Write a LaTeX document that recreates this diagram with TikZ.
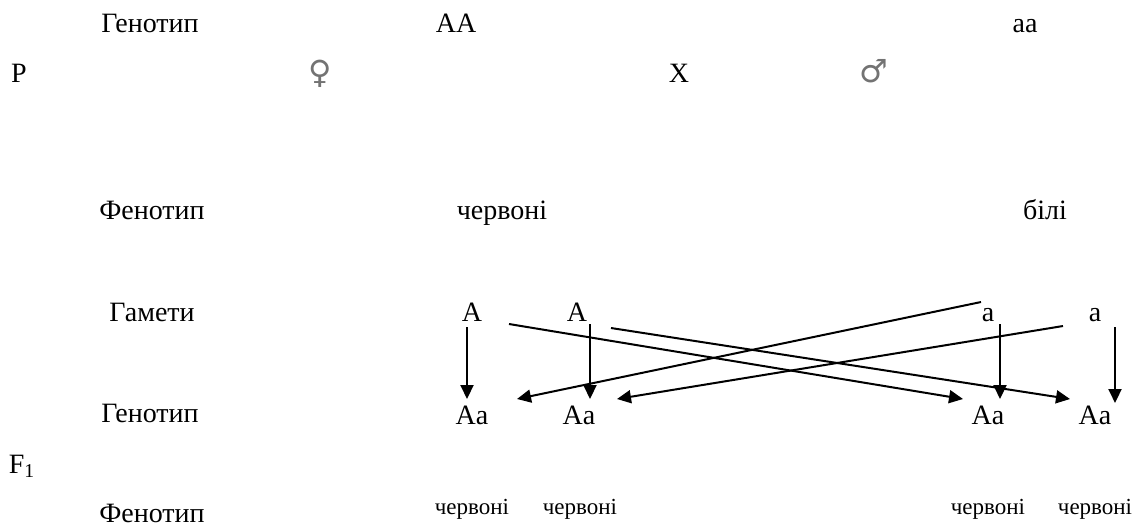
\documentclass[tikz,border=0pt]{standalone}
\usepackage{fontspec}
\setmainfont{Liberation Serif}
\newfontfamily\symfont{DejaVu Sans}
\usepackage{tikz}
\usetikzlibrary{arrows.meta}

\tikzset{
  lbl/.style={font=\fontsize{14}{17}\selectfont, inner sep=0pt, anchor=base},
  smalltxt/.style={font=\fontsize{11.5}{14}\selectfont, inner sep=0pt, anchor=base},
  sexsym/.style={font=\symfont\fontsize{16}{18}\selectfont, text=black!55, inner sep=0pt},
  arr/.style={line width=1pt, -{Triangle[length=7pt,width=6.5pt]}}
}

\begin{document}
\begin{tikzpicture}[x=0.5pt, y=-0.5pt]
            \useasboundingbox (0,0) rectangle (1143,527);

            % parents
            \node[lbl] (genP)  at (150, 32)  {Генотип};
            \node[lbl] (AA)    at (456, 32)  {AA};
            \node[lbl] (aa)    at (1025, 32) {aa};
            \node[lbl] (P)     at (19, 82)   {P};
            \node[sexsym] (fem) at (320, 74) {♀};
            \node[lbl] (cross) at (679, 82)  {X};
            \node[sexsym] (mal) at (874, 71) {♂};

            \node[lbl] (phenP) at (152, 219)  {Фенотип};
            \node[lbl] (red)   at (502, 219)  {червоні};
            \node[lbl] (white) at (1045, 219) {білі};

            % gametes
            \node[lbl] (gam) at (152, 321)  {Гамети};
            \node[lbl] (gA1) at (472, 321)  {A};
            \node[lbl] (gA2) at (577, 321)  {A};
            \node[lbl] (ga1) at (988, 321)  {a};
            \node[lbl] (ga2) at (1095, 321) {a};

            % F1
            \node[lbl] (genF) at (150, 422)  {Генотип};
            \node[lbl] (Aa1)  at (472, 424)  {Aa};
            \node[lbl] (Aa2)  at (579, 424)  {Aa};
            \node[lbl] (Aa3)  at (988, 424)  {Aa};
            \node[lbl] (Aa4)  at (1095, 424) {Aa};
            \node[lbl] (F)    at (22, 473)   {F\textsubscript{1}};

            \node[lbl] (phenF) at (152, 522) {Фенотип};
            \node[smalltxt] (red1) at (472, 514)  {червоні};
            \node[smalltxt] (red2) at (580, 514)  {червоні};
            \node[smalltxt] (red3) at (988, 514)  {червоні};
            \node[smalltxt] (red4) at (1095, 514) {червоні};

            % arrow ends
            \coordinate (v1s) at (467, 327);  \coordinate (v1e) at (467, 399);
            \coordinate (v2s) at (590, 324);  \coordinate (v2e) at (590, 399);
            \coordinate (v3s) at (1000, 324); \coordinate (v3e) at (1000, 399);
            \coordinate (v4s) at (1115, 327); \coordinate (v4e) at (1115, 403);
            \coordinate (d1s) at (509, 324);  \coordinate (d1e) at (963, 399);
            \coordinate (d2s) at (611, 328);  \coordinate (d2e) at (1070, 399);
            \coordinate (d3s) at (981, 302);  \coordinate (d3e) at (517, 399);
            \coordinate (d4s) at (1063, 326); \coordinate (d4e) at (617, 399);

            \draw[arr] (v1s) -- (v1e);
            \draw[arr] (v2s) -- (v2e);
            \draw[arr] (v3s) -- (v3e);
            \draw[arr] (v4s) -- (v4e);
            \draw[arr] (d1s) -- (d1e);
            \draw[arr] (d2s) -- (d2e);
            \draw[arr] (d3s) -- (d3e);
            \draw[arr] (d4s) -- (d4e);
        \end{tikzpicture}
\end{document}
